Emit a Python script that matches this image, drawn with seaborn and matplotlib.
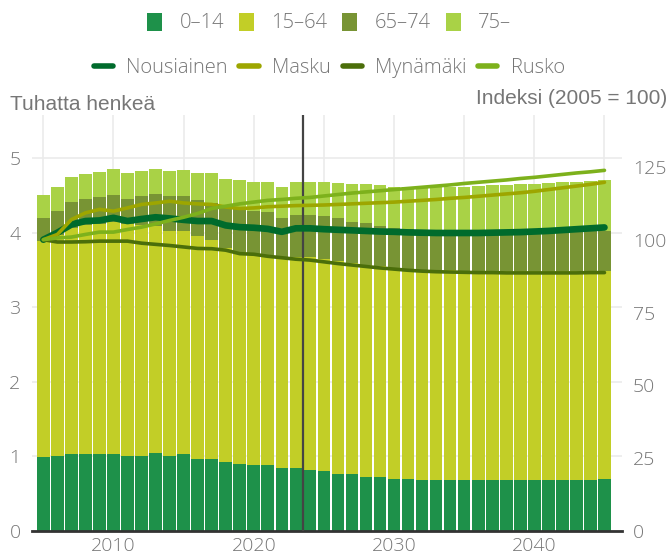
import numpy as np
import pandas as pd
import matplotlib
matplotlib.use("Agg")
import matplotlib.pyplot as plt
import seaborn as sns
from matplotlib.patches import Patch
from matplotlib.lines import Line2D

# Vuodet ja ikäryhmät (tuhatta henkeä)
years = list(range(2005, 2046))

age_0_14 = [0.99, 1.00, 1.03, 1.03, 1.03, 1.03, 1.01, 1.01, 1.04, 1.01, 1.03,
            0.97, 0.97, 0.92, 0.90, 0.88, 0.88, 0.85, 0.85, 0.82, 0.81, 0.77,
            0.76, 0.73, 0.73, 0.70, 0.70, 0.69, 0.69, 0.69, 0.69, 0.68, 0.68,
            0.68, 0.69, 0.69, 0.69, 0.69, 0.69, 0.69, 0.70]
age_15_64 = [2.90, 2.97, 3.03, 3.07, 3.09, 3.12, 3.11, 3.09, 3.05, 3.02, 2.99,
             2.99, 2.93, 2.87, 2.84, 2.84, 2.82, 2.83, 2.83, 2.85, 2.84, 2.85,
             2.83, 2.84, 2.82, 2.82, 2.81, 2.81, 2.81, 2.81, 2.80, 2.81, 2.81,
             2.81, 2.80, 2.80, 2.80, 2.80, 2.80, 2.80, 2.79]
age_65_74 = [0.305, 0.32, 0.35, 0.35, 0.36, 0.355, 0.33, 0.39, 0.43, 0.46, 0.47,
             0.48, 0.50, 0.56, 0.575, 0.57, 0.575, 0.525, 0.565, 0.565, 0.575,
             0.575, 0.55, 0.56, 0.54, 0.545, 0.54, 0.54, 0.53, 0.525, 0.52,
             0.51, 0.51, 0.51, 0.51, 0.51, 0.52, 0.53, 0.52, 0.53, 0.54]
age_75 = [0.31, 0.32, 0.34, 0.34, 0.33, 0.35, 0.35, 0.34, 0.335, 0.34, 0.35,
          0.36, 0.40, 0.37, 0.39, 0.39, 0.405, 0.415, 0.43, 0.445, 0.46, 0.47,
          0.51, 0.525, 0.55, 0.555, 0.56, 0.57, 0.58, 0.59, 0.60, 0.625, 0.64,
          0.64, 0.65, 0.65, 0.655, 0.66, 0.67, 0.67, 0.675]

# Indeksit (2005 = 100)
nousiainen = [100.0, 102.4, 105.2, 106.4, 106.6, 107.5, 106.4, 107.1, 107.7, 107.3,
              106.8, 106.4, 106.4, 104.9, 104.3, 104.1, 103.7, 102.7, 103.9, 103.9,
              103.6, 103.4, 103.2, 103.0, 102.8, 102.7, 102.5, 102.4, 102.3, 102.3,
              102.3, 102.3, 102.4, 102.5, 102.6, 102.8, 103.0, 103.3, 103.6, 103.9,
              104.2]
masku = [100.0, 101.8, 106.9, 109.2, 110.4, 109.8, 110.9, 112.1, 112.6, 113.2,
         112.6, 112.3, 112.1, 111.2, 110.7, 110.9, 111.3, 111.5, 111.7, 111.8,
         111.9, 112.1, 112.3, 112.5, 112.7, 112.9, 113.2, 113.5, 113.8, 114.2,
         114.5, 114.9, 115.3, 115.7, 116.1, 116.6, 117.2, 117.8, 118.4, 119.0,
         119.7]
mynamaki = [100.0, 99.2, 99.2, 99.3, 99.5, 99.5, 99.5, 98.8, 98.4, 98.0,
            97.5, 97.0, 96.9, 96.4, 95.2, 95.0, 94.3, 93.8, 93.3, 93.0,
            92.4, 91.8, 91.3, 90.8, 90.3, 89.9, 89.5, 89.2, 89.0, 88.9,
            88.8, 88.7, 88.7, 88.6, 88.6, 88.6, 88.6, 88.6, 88.6, 88.7,
            88.7]
rusko = [100.0, 100.6, 100.9, 101.8, 102.6, 102.6, 103.5, 104.3, 105.4, 106.6,
         107.7, 109.0, 110.7, 111.5, 112.3, 112.9, 113.5, 113.8, 114.2, 114.5,
         115.0, 115.5, 116.0, 116.4, 116.8, 117.2, 117.6, 118.0, 118.4, 118.8,
         119.3, 119.7, 120.1, 120.5, 121.0, 121.4, 121.9, 122.4, 122.9, 123.3,
         123.8]

age_labels = ["0–14", "15–64", "65–74", "75–"]
age_colors = ["#1e914a", "#c2ce27", "#789434", "#a9d246"]
town_labels = ["Nousiainen", "Masku", "Mynämäki", "Rusko"]
town_colors = ["#006b2c", "#9da600", "#4b6e0a", "#7db11c"]
town_widths = [4.8, 2.6, 2.6, 2.6]

GREY = "#767676"

df = pd.DataFrame({"vuosi": years, "a": age_0_14, "b": age_15_64,
                   "c": age_65_74, "d": age_75})
# kumulatiiviset pinot
df["top1"] = df["a"]
df["top2"] = df["top1"] + df["b"]
df["top3"] = df["top2"] + df["c"]
df["top4"] = df["top3"] + df["d"]

sns.set_theme(style="white")
plt.rcParams["font.family"] = ["Open Sans", "DejaVu Sans"]
plt.rcParams["font.weight"] = "light"

fig = plt.figure(figsize=(6.69, 5.59), dpi=100)
ax = fig.add_axes([31.7 / 669, 1 - 531 / 559, (622 - 31.7) / 669, (531 - 115) / 559])

# pinotut pylväät: piirretään korkein ensin
for col, color in zip(["top4", "top3", "top2", "top1"], age_colors[::-1]):
    sns.barplot(data=df, x="vuosi", y=col, color=color, native_scale=True,
                width=0.9, saturation=1, errorbar=None, linewidth=0, ax=ax)

ax.set_xlim(2004.17, 2046.25)
ax.set_ylim(0, 5.58)
ax.set_xticks([2010, 2020, 2030, 2040])
ax.set_xticklabels(["2010", "2020", "2030", "2040"])
ax.set_xticks(range(2005, 2046, 5), minor=True)
ax.set_yticks([0, 1, 2, 3, 4, 5])
ax.set_yticklabels(["0", "1", "2", "3", "4", "5"])
ax.set_xlabel("")
ax.set_ylabel("")
ax.set_axisbelow(True)
ax.grid(which="both", axis="x", color="#ebebeb", linewidth=1.2)
ax.grid(which="major", axis="y", color="#ebebeb", linewidth=1.2)
ax.tick_params(axis="both", which="both", length=0, labelsize=14, labelcolor=GREY)
ax.tick_params(axis="y", pad=8)
ax.tick_params(axis="x", pad=4)
for s in ["top", "right", "left"]:
    ax.spines[s].set_visible(False)
ax.spines["bottom"].set_color("#333333")
ax.spines["bottom"].set_linewidth(2)

# indeksiviivat oikealla akselilla
ax2 = ax.twinx()
ax2.axvline(2023.5, color="#444444", linewidth=1.6, zorder=1)
for vals, color, lw in zip([nousiainen, masku, mynamaki, rusko], town_colors, town_widths):
    sns.lineplot(x=years, y=vals, color=color, linewidth=lw, ax=ax2, zorder=3)
ax2.set_ylim(0, 142.8)
ax2.set_yticks([0, 25, 50, 75, 100, 125])
ax2.set_yticklabels(["0", "25", "50", "75", "100", "125"])
ax2.tick_params(axis="y", length=0, labelsize=14, labelcolor=GREY, pad=8)
for s in ["top", "right", "left", "bottom"]:
    ax2.spines[s].set_visible(False)
ax2.grid(False)

fig.text(10 / 669, 1 - 104 / 559, "Tuhatta henkeä", fontsize=15, color=GREY,
         family=["Liberation Sans", "DejaVu Sans"], weight="normal", va="center", ha="left")
fig.text(667 / 669, 1 - 98 / 559, "Indeksi (2005 = 100)", fontsize=15, color=GREY,
         family=["Liberation Sans", "DejaVu Sans"], weight="normal", va="center", ha="right")

# selitteet
age_handles = [Patch(facecolor=c, edgecolor="none") for c in age_colors]
leg1 = fig.legend(age_handles, age_labels, loc="center", bbox_to_anchor=(0.492, 1 - 23 / 559),
                  ncol=4, frameon=False, fontsize=14.5, labelcolor=GREY,
                  handlelength=0.75, handleheight=1.0, handletextpad=0.85, columnspacing=0.75)
town_handles = [Line2D([0], [0], color=c, linewidth=4) for c in town_colors]
leg2 = fig.legend(town_handles, town_labels, loc="center", bbox_to_anchor=(0.492, 1 - 68 / 559),
                  ncol=4, frameon=False, fontsize=14.5, labelcolor=GREY,
                  handlelength=0.95, handletextpad=0.65, columnspacing=0.6)

fig.savefig("out.png", dpi=100)
